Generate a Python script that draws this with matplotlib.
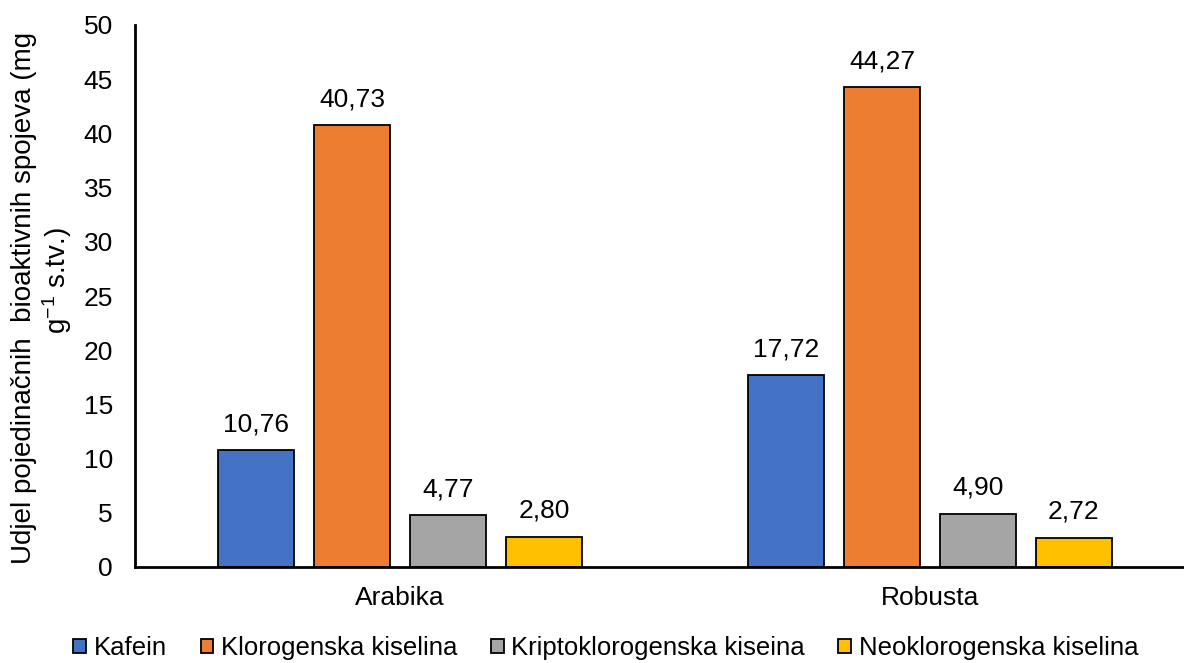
import matplotlib
matplotlib.use("Agg")
import matplotlib.pyplot as plt
import numpy as np
from matplotlib.patches import Patch

plt.rcParams['font.family'] = ['Liberation Sans', 'DejaVu Sans']
plt.rcParams['mathtext.fontset'] = 'custom'
plt.rcParams['mathtext.rm'] = 'Liberation Sans'
plt.rcParams['mathtext.default'] = 'regular'

categories = ["Arabika", "Robusta"]
series = ["Kafein", "Klorogenska kiselina", "Kriptoklorogenska kiseina", "Neoklorogenska kiselina"]
kafein = [10.76, 17.72]
klorogenska = [40.73, 44.27]
kriptoklorogenska = [4.77, 4.90]
neoklorogenska = [2.80, 2.72]
colors = ["#4472C4", "#ED7D31", "#A5A5A5", "#FFC000"]
yticks = [0, 5, 10, 15, 20, 25, 30, 35, 40, 45, 50]
ylabel_lines = ["Udjel pojedinačnih  bioaktivnih spojeva (mg", "g$^{-1}$ s.tv.)"]

values = [kafein, klorogenska, kriptoklorogenska, neoklorogenska]

W, H = 1184, 663
fig = plt.figure(figsize=(W / 100, H / 100), dpi=100)
ax = fig.add_axes([135 / W, 1 - 567 / H, 1060 / W, (567 - 25) / H])

x = np.arange(len(categories))
step = 0.181
width = 0.143
offsets = (np.arange(len(series)) - 1.5) * step
fs = 19

for i, (name, vals, c) in enumerate(zip(series, values, colors)):
    bars = ax.bar(x + offsets[i], vals, width, color=c, edgecolor="black", linewidth=1.3, label=name, zorder=2)
    ax.bar_label(bars, labels=[f"{v:.2f}".replace(".", ",") for v in vals], padding=10, fontsize=fs)

ax.set_xlim(-0.5, 1.5)
ax.set_ylim(0, 50)
ax.set_yticks(yticks)
ax.set_yticklabels([str(t) for t in yticks], fontsize=fs)
ax.set_xticks(x)
ax.set_xticklabels(categories, fontsize=fs)
ax.tick_params(axis="both", length=0)
ax.tick_params(axis="y", pad=16)
ax.tick_params(axis="x", pad=14)

for s in ["top", "right"]:
    ax.spines[s].set_visible(False)
for s in ["left", "bottom"]:
    ax.spines[s].set_linewidth(2)
    ax.spines[s].set_color("black")

fig.text(24 / W, 1 - 298 / H, ylabel_lines[0], rotation=90, ha="center", va="center", fontsize=20)
fig.text(57 / W, 1 - 281 / H, ylabel_lines[1], rotation=90, ha="center", va="center", fontsize=20)

handles = [Patch(facecolor=c, edgecolor="black", linewidth=1.3) for c in colors]
fig.legend(handles, series, loc="center", bbox_to_anchor=(606 / W, 1 - 648 / H), ncol=4,
           frameon=False, fontsize=18.5, handlelength=0.5, handleheight=0.5, handletextpad=0.3,
           columnspacing=1.3, borderpad=0)

fig.savefig("out.png", dpi=100)
